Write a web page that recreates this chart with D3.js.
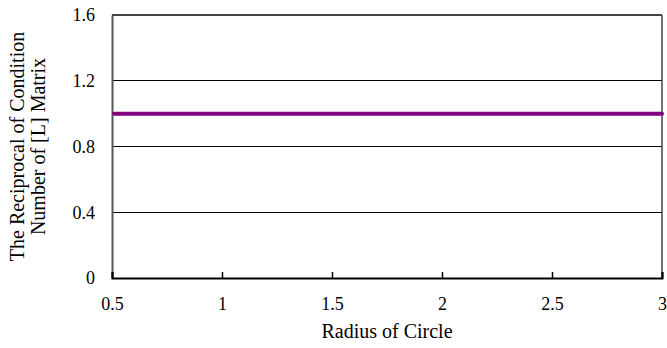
<!DOCTYPE html>
<html>
<head>
<meta charset="utf-8">
<script src="https://cdn.jsdelivr.net/npm/d3@7"></script>
<style>
  body { margin: 0; background: #fff; }
</style>
</head>
<body>
<svg id="chart" width="667" height="348"></svg>
<script>
// radius values along the curve and the reciprocal condition number
const radius = [0.51, 0.6, 0.7, 0.8, 0.9, 0.95, 1.0, 1.05, 1.1, 1.2, 1.3, 1.4, 1.5, 1.6, 1.7, 1.8, 1.9, 2.0,
  2.1, 2.2, 2.3, 2.4, 2.5, 2.6, 2.7, 2.8, 2.9, 3.0];
const rcond = [1, 1, 1, 1, 1, 1, 1, 1, 1, 1, 1, 1, 1, 1, 1, 1, 1, 1,
  1, 1, 1, 1, 1, 1, 1, 1, 1, 1];
const xTicks = [0.5, 1, 1.5, 2, 2.5, 3];
const yTicks = [0, 0.4, 0.8, 1.2, 1.6];

const serif = "Liberation Serif";

const svg = d3.select("#chart");
const margin = { top: 15, right: 5, bottom: 70, left: 112 };
const width = 667 - margin.left - margin.right;
const height = 348 - margin.top - margin.bottom;

const g = svg.append("g").attr("transform", `translate(${margin.left},${margin.top})`);

const x = d3.scaleLinear().domain([0.5, 3]).range([0, width]);
const y = d3.scaleLinear().domain([0, 1.6]).range([height, 0]);

// horizontal grid lines (top one doubles as the frame)
g.selectAll(".grid")
  .data(yTicks.filter(d => d > 0))
  .join("line")
  .attr("x1", 0).attr("x2", width)
  .attr("y1", d => y(d)).attr("y2", d => y(d))
  .attr("stroke", d => d === 1.6 ? "#444" : "#000")
  .attr("stroke-width", d => d === 1.6 ? 1.5 : 1)
  .attr("shape-rendering", "crispEdges");

// right border
g.append("line")
  .attr("x1", width).attr("x2", width)
  .attr("y1", 0).attr("y2", height)
  .attr("stroke", "#444").attr("stroke-width", 1.5);

// y axis
const yAxis = g.append("g")
  .call(d3.axisLeft(y).tickValues(yTicks).tickSize(0).tickPadding(17).tickFormat(d3.format("")))
  .attr("font-family", serif)
  .attr("font-size", 18);
yAxis.select(".domain").attr("stroke", "#555").attr("stroke-width", 2);

// x axis with small inward ticks
const xAxis = g.append("g")
  .attr("transform", `translate(0,${height})`)
  .call(d3.axisBottom(x).tickValues(xTicks).tickSize(-6).tickPadding(19).tickFormat(d3.format("")))
  .attr("font-family", serif)
  .attr("font-size", 18);
xAxis.select(".domain").attr("stroke", "#000").attr("stroke-width", 2);
xAxis.selectAll(".tick line").attr("stroke", "#000").attr("stroke-width", 1.5);

// series line
const line = d3.line().x((d, i) => x(radius[i])).y(d => y(d));
g.append("path")
  .datum(rcond)
  .attr("fill", "none")
  .attr("stroke", "#800080")
  .attr("stroke-width", 4)
  .attr("stroke-linecap", "round")
  .attr("d", line);

// axis titles
svg.append("text")
  .attr("x", margin.left + width / 2)
  .attr("y", 338)
  .attr("text-anchor", "middle")
  .attr("font-family", serif)
  .attr("font-size", 20)
  .text("Radius of Circle");

const yl = svg.append("text")
  .attr("transform", `translate(0,${margin.top + height / 2}) rotate(-90)`)
  .attr("text-anchor", "middle")
  .attr("font-family", serif)
  .attr("font-size", 20);
yl.append("tspan").attr("x", 0).attr("y", 24).text("The Reciprocal of Condition");
yl.append("tspan").attr("x", 0).attr("y", 45).text("Number of [L] Matrix");
</script>
</body>
</html>
